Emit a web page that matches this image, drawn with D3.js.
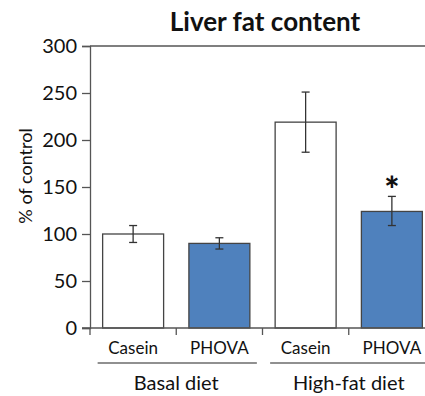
<!DOCTYPE html>
<html>
<head>
<meta charset="utf-8">
<script src="https://cdn.jsdelivr.net/npm/d3@7"></script>
<style>
  html, body { margin: 0; padding: 0; background: #fff; }
  svg { display: block; font-family: Lato, "Open Sans", sans-serif; }
</style>
</head>
<body>
<svg id="chart" width="425" height="396"></svg>
<script>
// Liver fat content, % of control
const categories = ["Casein", "PHOVA", "Casein", "PHOVA"];
const groups = ["Basal diet", "Basal diet", "High-fat diet", "High-fat diet"];
const groupNames = ["Basal diet", "High-fat diet"];
const values = [100, 90, 219, 124];
const errLow = [91, 84, 187, 109];
const errHigh = [109, 96, 251, 140];
const fills = ["#ffffff", "#4f81bd", "#ffffff", "#4f81bd"];
const significant = [false, false, false, true];
const yTicks = [0, 50, 100, 150, 200, 250, 300];

const svg = d3.select("#chart");
const axisColor = "#555";

const x = d3.scaleBand()
  .domain(d3.range(categories.length))
  .range([90, 435])
  .paddingInner(0.293)
  .paddingOuter(0.1465);

const y = d3.scaleLinear().domain([0, 300]).range([328, 46]);

// Title
svg.append("text")
  .attr("x", 265).attr("y", 31)
  .attr("text-anchor", "middle")
  .attr("font-size", 26).attr("font-weight", "bold")
  .attr("fill", "#111")
  .text("Liver fat content");

// Y axis
const yAxis = svg.append("g")
  .attr("transform", "translate(90,0)")
  .call(d3.axisLeft(y).tickValues(yTicks).tickSize(8).tickPadding(5));
yAxis.select(".domain").attr("stroke", axisColor).attr("stroke-width", 1.3);
yAxis.selectAll(".tick line").attr("stroke", axisColor).attr("stroke-width", 1.3);
yAxis.selectAll(".tick text").attr("font-size", 20).attr("fill", "#111")
  .attr("font-family", "Lato, 'Open Sans', sans-serif");

// Top frame line at 300
svg.append("line")
  .attr("x1", 90).attr("x2", 425)
  .attr("y1", y(300)).attr("y2", y(300))
  .attr("stroke", axisColor).attr("stroke-width", 1.3);

// Y axis title
svg.append("text")
  .attr("transform", "translate(32,176) rotate(-90)")
  .attr("text-anchor", "middle")
  .attr("font-size", 18).attr("fill", "#111")
  .text("% of control");

// Bars
const bars = svg.append("g");
bars.selectAll("rect")
  .data(values)
  .join("rect")
  .attr("x", (d, i) => x(i))
  .attr("width", x.bandwidth())
  .attr("y", d => y(d))
  .attr("height", d => y(0) - y(d))
  .attr("fill", (d, i) => fills[i])
  .attr("stroke", "#444")
  .attr("stroke-width", 1.3);

// Error bars
const cap = 4;
const eb = svg.append("g").attr("stroke", "#333").attr("stroke-width", 1.3);
values.forEach((v, i) => {
  const cx = x(i) + x.bandwidth() / 2;
  eb.append("line").attr("x1", cx).attr("x2", cx).attr("y1", y(errLow[i])).attr("y2", y(errHigh[i]));
  eb.append("line").attr("x1", cx - cap).attr("x2", cx + cap).attr("y1", y(errLow[i])).attr("y2", y(errLow[i]));
  eb.append("line").attr("x1", cx - cap).attr("x2", cx + cap).attr("y1", y(errHigh[i])).attr("y2", y(errHigh[i]));
});

// Significance marks
values.forEach((v, i) => {
  if (!significant[i]) return;
  svg.append("text")
    .attr("x", x(i) + x.bandwidth() / 2)
    .attr("y", y(errHigh[i]) + 7)
    .attr("text-anchor", "middle")
    .attr("font-size", 36).attr("font-weight", "900")
    .attr("fill", "#111")
    .text("*");
});

// X axis with boundary ticks between categories
const xAxisY = y(0);
svg.append("line")
  .attr("x1", 82).attr("x2", 425)
  .attr("y1", xAxisY).attr("y2", xAxisY)
  .attr("stroke", axisColor).attr("stroke-width", 1.3);
d3.range(categories.length).forEach(i => {
  const bx = x(i) - x.step() * x.paddingInner() / 2;
  svg.append("line")
    .attr("x1", bx).attr("x2", bx)
    .attr("y1", xAxisY).attr("y2", xAxisY + 7)
    .attr("stroke", axisColor).attr("stroke-width", 1.3);
});

// Category labels
svg.append("g").selectAll("text")
  .data(categories)
  .join("text")
  .attr("x", (d, i) => x(i) + x.bandwidth() / 2)
  .attr("y", 354)
  .attr("text-anchor", "middle")
  .attr("font-size", 17).attr("fill", "#111")
  .text(d => d);

// Group underlines and labels
groupNames.forEach(g => {
  const idx = d3.range(categories.length).filter(i => groups[i] === g);
  const left = x(idx[0]) - 5;
  const right = Math.min(x(idx[idx.length - 1]) + x.bandwidth() + 7, 425);
  svg.append("line")
    .attr("x1", left).attr("x2", right)
    .attr("y1", 363).attr("y2", 363)
    .attr("stroke", "#222").attr("stroke-width", 1.2);
  const center = (x(idx[0]) + x(idx[idx.length - 1]) + x.bandwidth()) / 2;
  svg.append("text")
    .attr("x", center).attr("y", 390)
    .attr("text-anchor", "middle")
    .attr("font-size", 20).attr("fill", "#111")
    .text(g);
});
</script>
</body>
</html>
